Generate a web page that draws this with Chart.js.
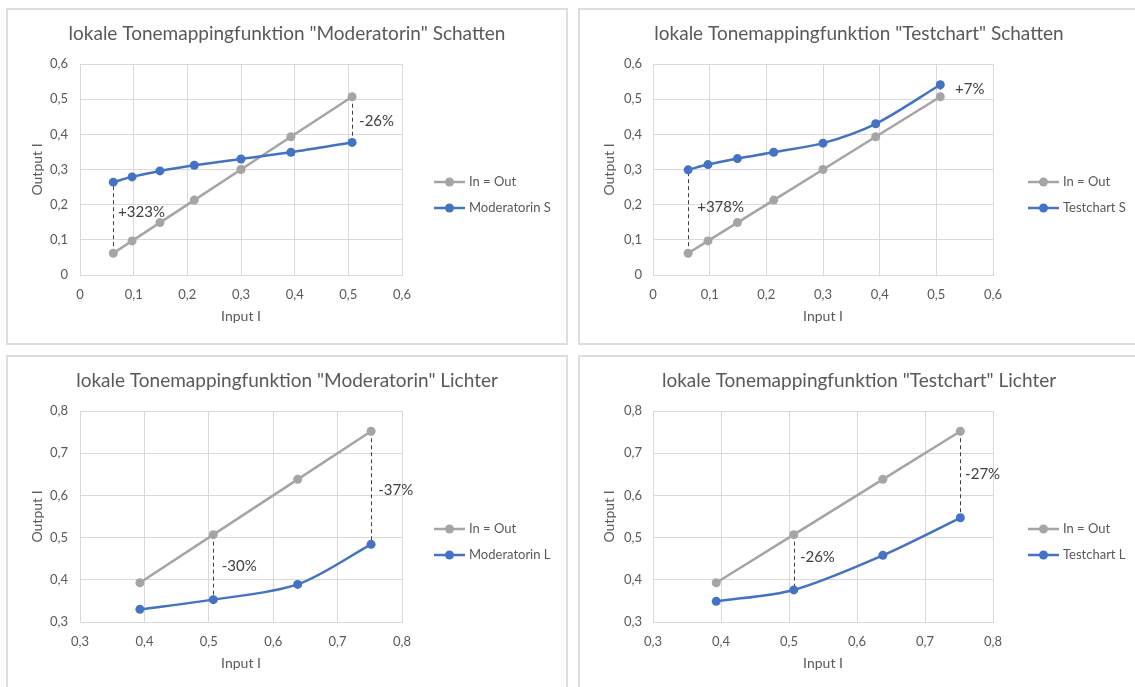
<!DOCTYPE html>
<html>
<head>
<meta charset="utf-8">
<script src="https://cdn.jsdelivr.net/npm/chart.js@4.4.1/dist/chart.umd.min.js"></script>
<style>
  html, body { margin: 0; padding: 0; background: #fff; }
  body { width: 1135px; height: 687px; overflow: hidden; position: relative; }
  .box { position: absolute; width: 562px; height: 337px; border: 2px solid #dedede; box-sizing: border-box; background: #fff; }
  .box canvas { display: block; }
</style>
</head>
<body>
<div class="box" style="left:6px;top:8px"><canvas id="c1" width="558" height="333"></canvas></div>
<div class="box" style="left:578px;top:8px"><canvas id="c2" width="558" height="333"></canvas></div>
<div class="box" style="left:6px;top:355px"><canvas id="c3" width="558" height="333"></canvas></div>
<div class="box" style="left:578px;top:355px"><canvas id="c4" width="558" height="333"></canvas></div>

<script>
// --- data ---
// Schatten (shadows): In = Out points, x and y are the same
const IN_S   = [0.062, 0.097, 0.149, 0.213, 0.300, 0.393, 0.507];
const MOD_S  = [0.264, 0.279, 0.296, 0.312, 0.330, 0.349, 0.377];
const TEST_S = [0.299, 0.314, 0.331, 0.349, 0.375, 0.430, 0.541];

// Lichter (highlights)
const IN_L   = [0.393, 0.507, 0.638, 0.752];
const MOD_L  = [0.330, 0.353, 0.389, 0.484];
const TEST_L = [0.349, 0.376, 0.458, 0.547];

const TICKS_S = ['0', '0,1', '0,2', '0,3', '0,4', '0,5', '0,6'];
const TICKS_L = ['0,3', '0,4', '0,5', '0,6', '0,7', '0,8'];

// dashed difference markers: index into the series + label text and where the label sits
const NOTES_MOD_S  = [{ at: 0, text: '+323%', lx: 0.071, ly: 0.179 }, { at: 6, text: '-26%', lx: 0.520, ly: 0.438 }];
const NOTES_TEST_S = [{ at: 0, text: '+378%', lx: 0.078, ly: 0.193 }, { at: 6, text: '+7%',  lx: 0.533, ly: 0.529 }];
const NOTES_MOD_L  = [{ at: 1, text: '-30%',  lx: 0.520, ly: 0.433 }, { at: 3, text: '-37%', lx: 0.763, ly: 0.613 }];
const NOTES_TEST_L = [{ at: 1, text: '-26%',  lx: 0.516, ly: 0.454 }, { at: 3, text: '-27%', lx: 0.759, ly: 0.651 }];

const GRAY = '#a5a5a5';
const BLUE = '#4472c4';
const TEXT = '#595959';
const GRID = '#d9d9d9';
const FONT = 'Lato';

function notesPlugin(xs, ys, notes) {
  return {
    id: 'notes',
    beforeDatasetsDraw(chart) {
      const { ctx, scales: { x, y } } = chart;
      ctx.save();
      ctx.strokeStyle = '#404040';
      ctx.lineWidth = 1;
      ctx.setLineDash([4, 3]);
      notes.forEach(n => {
        const px = Math.round(x.getPixelForValue(xs[n.at])) + 0.5;
        ctx.beginPath();
        ctx.moveTo(px, y.getPixelForValue(xs[n.at]));
        ctx.lineTo(px, y.getPixelForValue(ys[n.at]));
        ctx.stroke();
      });
      ctx.restore();
    },
    afterDatasetsDraw(chart) {
      const { ctx, scales: { x, y } } = chart;
      ctx.save();
      ctx.fillStyle = '#404040';
      ctx.font = '15px ' + FONT;
      ctx.textAlign = 'left';
      ctx.textBaseline = 'middle';
      notes.forEach(n => ctx.fillText(n.text, x.getPixelForValue(n.lx), y.getPixelForValue(n.ly)));
      ctx.restore();
    }
  };
}

// title centred over the whole box (chart.js would centre it over the padded area)
function titlePlugin(text) {
  return {
    id: 'boxTitle',
    afterDraw(chart) {
      const { ctx, width } = chart;
      ctx.save();
      ctx.fillStyle = TEXT;
      ctx.font = '19px ' + FONT;
      ctx.textAlign = 'center';
      ctx.textBaseline = 'middle';
      ctx.fillText(text, width / 2, 24);
      ctx.restore();
    }
  };
}

// Excel-style legend: short line with a marker in the middle, placed right of the plot
function legendPlugin(dx) {
  return {
    id: 'sideLegend',
    afterDraw(chart) {
      const { ctx, chartArea } = chart;
      ctx.save();
      chart.data.datasets.forEach((ds, i) => {
        const x0 = chartArea.right + dx;
        const yy = chartArea.top + 118 + i * 26;
        ctx.strokeStyle = ds.borderColor;
        ctx.lineWidth = 2.5;
        ctx.beginPath();
        ctx.moveTo(x0, yy);
        ctx.lineTo(x0 + 31, yy);
        ctx.stroke();
        ctx.fillStyle = ds.borderColor;
        ctx.beginPath();
        ctx.arc(x0 + 15.5, yy, 4.5, 0, Math.PI * 2);
        ctx.fill();
        ctx.fillStyle = TEXT;
        ctx.font = '13px ' + FONT;
        ctx.textAlign = 'left';
        ctx.textBaseline = 'middle';
        ctx.fillText(ds.label, x0 + 35, yy);
      });
      ctx.restore();
    }
  };
}

function makeChart(id, c) {
  const toXY = (xs, ys) => xs.map((v, i) => ({ x: v, y: ys[i] }));
  const W = 558;
  return new Chart(document.getElementById(id), {
    type: 'line',
    data: {
      datasets: [
        {
          label: 'In = Out',
          data: toXY(c.xs, c.xs),
          borderColor: GRAY, backgroundColor: GRAY,
          borderWidth: 2.5, pointRadius: 4.5, pointBorderWidth: 0,
          tension: 0, order: 1
        },
        {
          label: c.name,
          data: toXY(c.xs, c.ys),
          borderColor: BLUE, backgroundColor: BLUE,
          borderWidth: 2.5, pointRadius: 4.5, pointBorderWidth: 0,
          tension: 0.3, order: 0
        }
      ]
    },
    options: {
      responsive: false,
      animation: false,
      devicePixelRatio: 1,
      layout: { padding: { left: 0, top: 54, right: W - c.plotRight, bottom: 14.6 } },
      plugins: {
        legend: { display: false },
        tooltip: { enabled: false },
        title: { display: false }
      },
      scales: {
        x: {
          type: 'linear',
          min: c.min, max: c.max,
          ticks: {
            stepSize: 0.1, color: TEXT, padding: 12,
            font: { family: FONT, size: 13 },
            callback: v => c.ticks[Math.round((v - c.min) / 0.1)]
          },
          grid: { color: GRID, drawTicks: false },
          border: { color: GRID },
          title: {
            display: true, text: 'Input I', color: TEXT,
            font: { family: FONT, size: 14, lineHeight: 1.2 },
            padding: { top: 4, bottom: 4 }
          },
          afterFit: s => { s.height = 53.4; }
        },
        y: {
          type: 'linear',
          min: c.min, max: c.max,
          ticks: {
            stepSize: 0.1, color: TEXT, padding: c.tickPad,
            font: { family: FONT, size: 13 },
            callback: v => c.ticks[Math.round((v - c.min) / 0.1)]
          },
          grid: { color: GRID, drawTicks: false },
          border: { color: GRID },
          title: {
            display: true, text: 'Output I', color: TEXT,
            font: { family: FONT, size: 14, lineHeight: 1.2 },
            padding: { top: 20.6, bottom: 0 }
          },
          afterFit: s => { s.width = c.plotLeft; }
        }
      }
    },
    plugins: [notesPlugin(c.xs, c.ys, c.notes), legendPlugin(c.legendDx), titlePlugin(c.title)]
  });
}

makeChart('c1', {
  title: 'lokale Tonemappingfunktion "Moderatorin" Schatten', name: 'Moderatorin S',
  xs: IN_S, ys: MOD_S, notes: NOTES_MOD_S, min: 0, max: 0.6, ticks: TICKS_S,
  plotLeft: 72, plotRight: 394, tickPad: 12, legendDx: 32
});
makeChart('c2', {
  title: 'lokale Tonemappingfunktion "Testchart" Schatten', name: 'Testchart S',
  xs: IN_S, ys: TEST_S, notes: NOTES_TEST_S, min: 0, max: 0.6, ticks: TICKS_S,
  plotLeft: 73, plotRight: 413, tickPad: 11, legendDx: 35
});
makeChart('c3', {
  title: 'lokale Tonemappingfunktion "Moderatorin" Lichter', name: 'Moderatorin L',
  xs: IN_L, ys: MOD_L, notes: NOTES_MOD_L, min: 0.3, max: 0.8, ticks: TICKS_L,
  plotLeft: 72, plotRight: 394, tickPad: 12, legendDx: 32
});
makeChart('c4', {
  title: 'lokale Tonemappingfunktion "Testchart" Lichter', name: 'Testchart L',
  xs: IN_L, ys: TEST_L, notes: NOTES_TEST_L, min: 0.3, max: 0.8, ticks: TICKS_L,
  plotLeft: 73, plotRight: 413, tickPad: 11, legendDx: 35
});
</script>
</body>
</html>
